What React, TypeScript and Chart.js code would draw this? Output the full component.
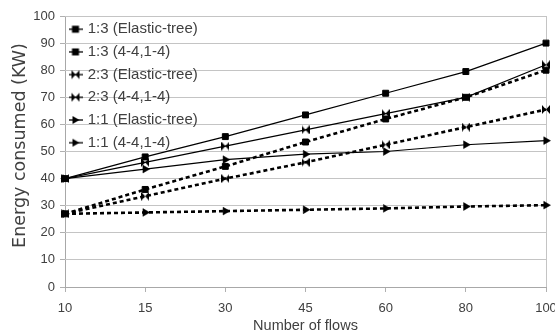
import { useEffect, useRef } from 'react';
import { Chart, registerables } from 'chart.js';

Chart.register(...registerables);

const categories = ['10', '15', '30', '45', '60', '80', '100'];
const seriesLabels = [
  '1:3 (Elastic-tree)',
  '1:3 (4-4,1-4)',
  '2:3 (Elastic-tree)',
  '2:3 (4-4,1-4)',
  '1:1 (Elastic-tree)',
  '1:1 (4-4,1-4)',
];
const s13Elastic = [40, 48, 55.5, 63.5, 71.5, 79.5, 90];
const s13Fixed = [27, 36, 44.5, 53.5, 62, 70, 80];
const s23Elastic = [40, 46, 52, 58, 64, 70, 82];
const s23Fixed = [27, 33.5, 40, 46, 52.5, 59, 65.5];
const s11Elastic = [40, 43.5, 47, 49, 50, 52.5, 54];
const s11Fixed = [27, 27.5, 28, 28.5, 29, 29.7, 30.2];
const yMin = 0;
const yMax = 100;
const yStep = 10;

const FONT = "'Liberation Sans', Arial, Helvetica, sans-serif";
const WIDE_FONT = "'DejaVu Sans', Verdana, sans-serif";
const TEXT = '#404040';
const GRID = '#c4c4c4';
const AXIS = '#a8a8a8';

type Kind = 'square' | 'bowtie' | 'triangle';

function drawMarker(ctx: CanvasRenderingContext2D, kind: Kind, cx: number, cy: number) {
  ctx.fillStyle = '#000';
  ctx.beginPath();
  if (kind === 'square') {
    ctx.rect(cx - 3.5, cy - 3.5, 7, 7);
  } else if (kind === 'bowtie') {
    const w = 8, h = 9;
    const l = cx - w / 2, t = cy - h / 2;
    ctx.moveTo(l, t);
    ctx.lineTo(cx, cy);
    ctx.lineTo(l, t + h);
    ctx.closePath();
    ctx.moveTo(l + w, t);
    ctx.lineTo(cx, cy);
    ctx.lineTo(l + w, t + h);
    ctx.closePath();
  } else {
    ctx.moveTo(cx - 3, cy - 4);
    ctx.lineTo(cx + 4, cy);
    ctx.lineTo(cx - 3, cy + 4);
    ctx.closePath();
  }
  ctx.fill();
}

function makeBowtie(): HTMLCanvasElement {
  const c = document.createElement('canvas');
  c.width = 8;
  c.height = 9;
  const ctx = c.getContext('2d')!;
  drawMarker(ctx, 'bowtie', 4, 4.5);
  return c;
}

function makeLegendIcon(kind: Kind): HTMLCanvasElement {
  const c = document.createElement('canvas');
  c.width = 14;
  c.height = 10;
  const ctx = c.getContext('2d')!;
  ctx.strokeStyle = '#000';
  ctx.lineWidth = 1.3;
  ctx.beginPath();
  ctx.moveTo(0, 5);
  ctx.lineTo(14, 5);
  ctx.stroke();
  drawMarker(ctx, kind, 6, 5);
  return c;
}

export default function App() {
  const canvasRef = useRef<HTMLCanvasElement | null>(null);

  useEffect(() => {
    document.body.style.margin = '0';
    const canvas = canvasRef.current;
    if (!canvas) return;
    const bowtie = makeBowtie();
    const kinds: Kind[] = ['square', 'square', 'bowtie', 'bowtie', 'triangle', 'triangle'];
    const legendIcons = kinds.map((k) => makeLegendIcon(k));
    const values = [s13Elastic, s13Fixed, s23Elastic, s23Fixed, s11Elastic, s11Fixed];

    const datasets = values.map((data, i) => {
      const dashed = i % 2 === 1;
      const kind = kinds[i];
      return {
        label: seriesLabels[i],
        data,
        borderColor: '#000',
        backgroundColor: '#000',
        borderWidth: dashed ? 2.6 : 1.2,
        borderDash: dashed ? [4, 3] : [],
        pointStyle: kind === 'square' ? 'rect' : kind === 'triangle' ? 'triangle' : bowtie,
        pointRotation: kind === 'triangle' ? 90 : 0,
        pointRadius: kind === 'square' ? 4.2 : 4.5,
        pointBorderWidth: kind === 'square' ? 1 : 0.5,
        pointBackgroundColor: '#000',
        pointBorderColor: '#000',
        tension: 0,
        fill: false,
      };
    });

    const layoutNudge = {
      id: 'layoutNudge',
      afterLayout(chart: any) {
        const area = chart.chartArea;
        if (chart.legend) {
          const h = chart.legend.bottom - chart.legend.top;
          chart.legend.top = area.top - 2;
          chart.legend.bottom = chart.legend.top + h;
        }
        const y = chart.scales.y;
        if (y) {
          y.top -= 6;
          y.bottom -= 6;
        }
      },
    };

    const chart = new Chart(canvas, {
      type: 'line',
      data: { labels: categories, datasets: datasets as any },
      plugins: [layoutNudge],
      options: {
        animation: false,
        responsive: false,
        maintainAspectRatio: false,
        layout: { padding: { top: 16, right: 9, bottom: 0, left: 0 } },
        plugins: {
          tooltip: { enabled: false },
          legend: {
            position: 'chartArea' as any,
            align: 'start',
            labels: {
              usePointStyle: true,
              pointStyleWidth: 7.5,
              padding: 7.7,
              color: TEXT,
              font: { family: FONT, size: 15 },
              generateLabels: (ch: any) =>
                ch.data.datasets.map((ds: any, i: number) => ({
                  text: ds.label,
                  pointStyle: legendIcons[i],
                  fillStyle: '#000',
                  strokeStyle: '#000',
                  lineWidth: 0,
                  hidden: false,
                  datasetIndex: i,
                  fontColor: TEXT,
                })),
            },
          },
        },
        scales: {
          x: {
            type: 'category',
            offset: false,
            grid: {
              color: (ctx: any) =>
                ctx.index === 0 ? AXIS : ctx.index === categories.length - 1 ? GRID : 'rgba(0,0,0,0)',
              tickColor: '#b0b0b0',
              tickLength: 5,
              drawTicks: true,
            },
            border: { color: AXIS },
            ticks: {
              color: TEXT,
              font: { family: FONT, size: 13 },
              padding: 9,
              maxRotation: 0,
              autoSkip: false,
            },
            title: {
              display: true,
              text: 'Number of flows',
              color: TEXT,
              font: { family: FONT, size: 14.5 },
              padding: { top: 0, bottom: 0 },
            },
            afterFit: (scale: any) => {
              scale.height = 48;
              scale.paddingLeft = 0;
              scale.paddingRight = 0;
            },
          },
          y: {
            min: yMin,
            max: yMax,
            grid: { color: GRID, tickColor: '#b0b0b0', tickLength: 5 },
            border: { display: false },
            ticks: {
              stepSize: yStep,
              color: TEXT,
              font: { family: FONT, size: 13 },
              padding: 5,
            },
            title: {
              display: true,
              text: 'Energy consumed (KW)',
              color: TEXT,
              font: { family: WIDE_FONT, size: 17.5 },
              padding: { top: 9.5, bottom: 0 },
            },
            afterFit: (scale: any) => {
              scale.width = 65;
            },
          },
        },
      },
    });

    return () => chart.destroy();
  }, []);

  return (
    <div style={{ width: 555, height: 335 }}>
      <canvas ref={canvasRef} width={555} height={335} />
    </div>
  );
}
